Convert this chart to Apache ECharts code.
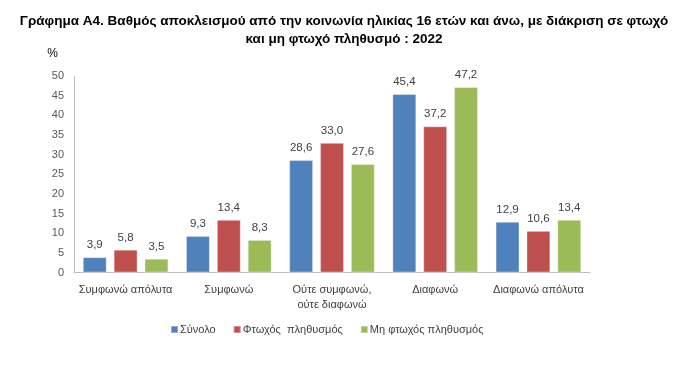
<!DOCTYPE html>
<html><head><meta charset="utf-8">
<script src="https://cdn.jsdelivr.net/npm/echarts@6/dist/echarts.min.js"></script>
<style>html,body{margin:0;padding:0;background:#fff}#c{width:688px;height:366px}</style>
</head><body><div id="c"></div>
<script>
const categories = ['Συμφωνώ απόλυτα', 'Συμφωνώ', 'Ούτε συμφωνώ,\nούτε διαφωνώ', 'Διαφωνώ', 'Διαφωνώ απόλυτα'];
const seriesNames = ['Σύνολο', 'Φτωχός  πληθυσμός', 'Μη φτωχός πληθυσμός'];
const total = [3.9, 9.3, 28.6, 45.4, 12.9];
const poor = [5.8, 13.4, 33.0, 37.2, 10.6];
const nonPoor = [3.5, 8.3, 27.6, 47.2, 13.4];
const colors = ['#4F81BD', '#C0504D', '#9BBB59'];
const titleText = 'Γράφημα Α4. Βαθμός αποκλεισμού από την κοινωνία ηλικίας 16 ετών και άνω, με διάκριση σε φτωχό\nκαι μη φτωχό πληθυσμό : 2022';

const chart = echarts.init(document.getElementById('c'), null, {renderer: 'canvas'});
const FONT = 'Liberation Sans';
function mk(name, data, color) {
  return {
    name, type: 'bar', data,
    barGap: '29%', barCategoryGap: '17%',
    itemStyle: {color, borderColor: 'rgba(255,255,255,0.35)', borderWidth: 1},
    label: {show: true, position: 'top', distance: 6, color: '#404040', fontSize: 11.5, fontFamily: FONT,
      formatter: p => p.value.toFixed(1).replace('.', ',')}
  };
}
chart.setOption({
  animation: false,
  title: {text: titleText, left: 'center', top: 7,
    textStyle: {fontFamily: FONT, fontSize: 13.5, fontWeight: 'bold', color: '#000', lineHeight: 18}},
  legend: {bottom: 26, left: 165, itemWidth: 7, itemHeight: 7, itemGap: 17, icon: 'rect',
    textStyle: {fontFamily: FONT, fontSize: 11, color: '#404040', padding: [0,0,0,-3]}},
  grid: {left: 74, right: 98, top: 76, bottom: 93.5, containLabel: false},
  xAxis: {type: 'category', data: categories,
    axisLine: {lineStyle: {color: '#BFBFBF'}}, axisTick: {show: false},
    axisLabel: {color: '#404040', fontSize: 11, fontFamily: FONT, margin: 10, lineHeight: 15, interval: 0}},
  yAxis: {type: 'value', min: 0, max: 50, interval: 5, name: '%', nameLocation: 'end',
    nameGap: 16, nameTextStyle: {color: '#000', fontSize: 12, fontFamily: FONT, align: 'right', padding: [0, 16, 0, 0]},
    axisLine: {show: true, lineStyle: {color: '#BFBFBF'}}, axisTick: {show: false}, splitLine: {show: false},
    axisLabel: {color: '#595959', fontSize: 11, fontFamily: FONT, margin: 10}},
  series: [mk(seriesNames[0], total, colors[0]), mk(seriesNames[1], poor, colors[1]), mk(seriesNames[2], nonPoor, colors[2])]
});
</script></body></html>
